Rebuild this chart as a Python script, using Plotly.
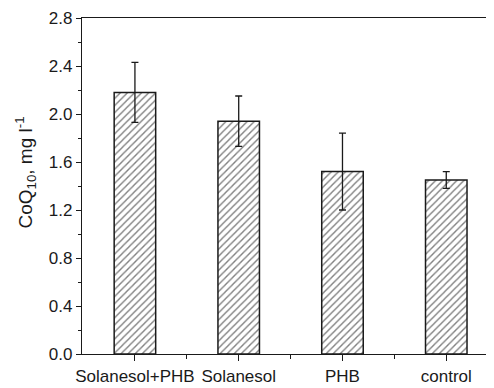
import plotly.graph_objects as go

categories = ["Solanesol+PHB", "Solanesol", "PHB", "control"]
values = [2.18, 1.94, 1.52, 1.45]
errors = [0.25, 0.21, 0.32, 0.07]
y_ticks = [0.0, 0.4, 0.8, 1.2, 1.6, 2.0, 2.4, 2.8]

x_pos = list(range(1, len(categories) + 1))

fig = go.Figure()
fig.add_trace(go.Bar(
    x=x_pos, y=values, width=0.4,
    marker=dict(color="white", line=dict(color="#1a1a1a", width=1.5),
                pattern=dict(shape="/", fgcolor="black", bgcolor="white", size=5, solidity=0.28)),
    error_y=dict(type="data", array=errors, visible=True, color="#1a1a1a", thickness=1.3, width=3.5),
    showlegend=False,
))

font = dict(family="Liberation Sans, Arial, sans-serif", size=17, color="#1a1a1a")
fig.update_layout(
    width=486, height=380,
    margin=dict(l=74, r=0, t=10, b=34),
    paper_bgcolor="white", plot_bgcolor="white",
    font=font,
    xaxis=dict(range=[0.49, 4.46], tickmode="array", tickvals=x_pos, ticktext=categories,
               showline=True, linecolor="#1a1a1a", linewidth=1.3, mirror=True,
               ticks="outside", ticklen=6, tickwidth=1.3, tickcolor="#1a1a1a",
               showgrid=False, zeroline=False,
               minor=dict(tickmode="array", tickvals=[1.5, 2.5, 3.5], ticks="outside",
                          ticklen=4, tickwidth=1.2, tickcolor="#1a1a1a")),
    yaxis=dict(range=[0, 2.8], tickmode="array", tickvals=y_ticks, tickformat=".1f",
               showline=True, linecolor="#1a1a1a", linewidth=1.3,
               ticks="outside", ticklen=5, tickwidth=1.3, tickcolor="#1a1a1a",
               showgrid=False, zeroline=False,
               minor=dict(dtick=0.2, tick0=0, ticks="outside", ticklen=3, tickwidth=1.2,
                          tickcolor="#1a1a1a")),
    annotations=[dict(text="CoQ<sub>10</sub>, mg l<sup>-1</sup>", textangle=-90,
                      xref="paper", yref="paper", x=0, y=0.54, xanchor="center",
                      yanchor="middle", xshift=-56, showarrow=False,
                      font=dict(family="Liberation Sans, Arial, sans-serif", size=19, color="#1a1a1a"))],
)
fig.write_html("out.html")
